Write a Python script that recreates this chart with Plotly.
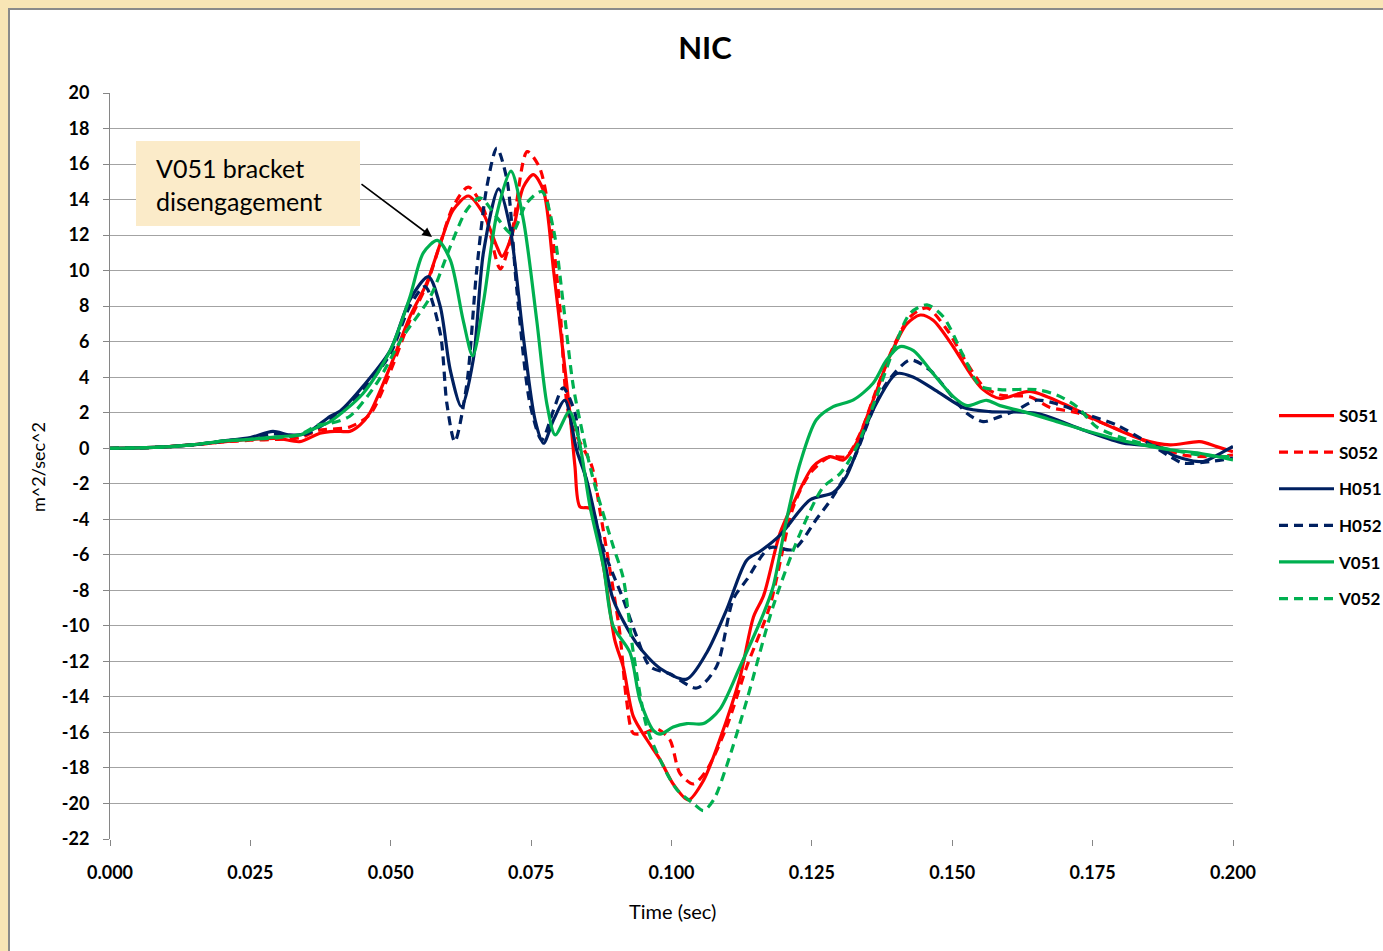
import plotly.graph_objects as go

# ---------------- data ----------------
t_S051 = [0, 0.005, 0.010, 0.015, 0.020, 0.025, 0.030, 0.0338, 0.0374, 0.040, 0.0427, 0.0445, 0.0463,
          0.0499, 0.0534, 0.0564, 0.0588, 0.0611, 0.0638, 0.0665, 0.0689, 0.0698, 0.0715, 0.0736, 0.0754,
          0.0772, 0.079, 0.0807, 0.0819, 0.0828, 0.0837, 0.0855, 0.0879, 0.0899, 0.0914, 0.0932, 0.0956,
          0.098, 0.1003, 0.103, 0.1057, 0.1086, 0.1122, 0.1146, 0.1164, 0.1193, 0.1217, 0.1253, 0.1282,
          0.1306, 0.1329, 0.1359, 0.1389, 0.1419, 0.1443, 0.1466, 0.1502, 0.1532, 0.1555, 0.1585, 0.1638,
          0.1698, 0.1769, 0.184, 0.1888, 0.1941, 0.1971, 0.2]
v_S051 = [0, 0.02, 0.08, 0.2, 0.35, 0.5, 0.55, 0.37, 0.84, 0.95, 0.95, 1.3, 2.0,
          4.6, 7.4, 9.3, 11.5, 13.4, 14.2, 13.2, 11.35, 10.8, 11.9, 14.7, 15.4,
          14.5, 10.0, 5.35, 2.0, -1.0, -3.3, -3.4, -6.7, -10.8, -12.3, -15.1, -16.4,
          -17.55, -18.9, -19.8, -18.7, -16.4, -12.9, -9.5, -8.3, -4.8, -3.1, -1.0, -0.47,
          -0.66, 0.28, 2.7, 5.2, 7.0, 7.5, 7.2, 5.7, 4.2, 3.3, 2.8, 3.2,
          2.5, 1.4, 0.47, 0.19, 0.37, 0.09, -0.19]

t_S052 = [0, 0.005, 0.010, 0.015, 0.020, 0.025, 0.030, 0.034, 0.037, 0.0427, 0.0463, 0.0499, 0.0534,
          0.0564, 0.0588, 0.0611, 0.0638, 0.0665, 0.0695, 0.0715, 0.0743, 0.0765, 0.0784, 0.0801, 0.0819,
          0.0858, 0.0873, 0.0899, 0.0908, 0.092, 0.0932, 0.095, 0.0974, 0.0997, 0.1015, 0.1039, 0.1063,
          0.1098, 0.1134, 0.1175, 0.1217, 0.1247, 0.1282, 0.1311, 0.1336, 0.1365, 0.1395, 0.1425, 0.1455,
          0.149, 0.1526, 0.1555, 0.1585, 0.1638, 0.1674, 0.1722, 0.1769, 0.184, 0.1911, 0.1959, 0.2]
v_S052 = [0, 0.02, 0.08, 0.2, 0.35, 0.45, 0.5, 0.6, 1.0, 1.2, 1.9, 4.3, 7.2,
          9.2, 11.5, 13.6, 14.7, 13.5, 10.1, 12.0, 16.7, 15.8, 12.9, 8.0, 1.6,
          -1.0, -3.6, -8.5, -10.4, -14.2, -16.05, -16.05, -15.8, -16.4, -18.3, -18.9, -18.1,
          -15.7, -12.3, -8.9, -3.3, -1.4, -0.47, -0.47, 0.84, 3.3, 5.7, 7.4, 7.9,
          6.7, 4.8, 3.5, 3.0, 2.9, 2.3, 2.0, 1.4, 0.47, -0.38, -0.47, -0.38]

t_H051 = [0, 0.005, 0.010, 0.015, 0.020, 0.025, 0.029, 0.032, 0.035, 0.0392, 0.041, 0.0451, 0.0499,
          0.0534, 0.0567, 0.0588, 0.0606, 0.0626, 0.0647, 0.0665, 0.0692, 0.0712, 0.0736, 0.0757, 0.0772,
          0.079, 0.081, 0.0831, 0.0849, 0.0878, 0.0896, 0.0938, 0.098, 0.1027, 0.1063, 0.1098, 0.1134,
          0.1158, 0.1193, 0.1247, 0.1288, 0.1311, 0.1359, 0.1401, 0.1431, 0.1478, 0.152, 0.1567, 0.165,
          0.1733, 0.1805, 0.1864, 0.1899, 0.1947, 0.1977, 0.2]
v_H051 = [0, 0.02, 0.08, 0.2, 0.4, 0.6, 0.95, 0.75, 0.85, 1.8, 2.1, 3.5, 5.5,
          8.35, 9.66, 8.0, 4.4, 2.34, 5.0, 11.0, 14.6, 12.5, 6.3, 1.6, 0.28,
          1.6, 2.7, -0.1, -1.8, -5.9, -8.5, -11.0, -12.4, -13.0, -11.5, -9.1, -6.3,
          -5.8, -4.9, -2.9, -2.5, -1.6, 2.16, 4.2, 4.0, 3.1, 2.3, 2.06, 1.97,
          1.03, 0.28, 0.09, -0.47, -0.75, -0.3, 0.1]

t_H052 = [0, 0.005, 0.010, 0.015, 0.020, 0.025, 0.029, 0.032, 0.035, 0.0392, 0.0451, 0.0499, 0.0534,
          0.0561, 0.0588, 0.060, 0.0614, 0.0635, 0.0653, 0.0671, 0.0689, 0.0707, 0.0724, 0.0748, 0.0769,
          0.079, 0.0807, 0.0828, 0.0837, 0.0878, 0.0914, 0.0938, 0.0962, 0.0997, 0.1045, 0.108, 0.111,
          0.1134, 0.1175, 0.1217, 0.1258, 0.1288, 0.1324, 0.1359, 0.1383, 0.1425, 0.146, 0.149, 0.1526,
          0.1555, 0.1585, 0.1615, 0.165, 0.1686, 0.1733, 0.1793, 0.184, 0.1888, 0.1911, 0.1959, 0.2]
v_H052 = [0, 0.02, 0.08, 0.2, 0.4, 0.55, 0.8, 0.7, 0.8, 1.6, 3.3, 5.3, 8.0,
          9.1, 6.5, 2.5, 0.37, 3.5, 10.0, 14.7, 16.9, 15.1, 9.1, 2.5, 0.47,
          2.16, 3.4, 2.0, -0.1, -5.6, -8.5, -10.6, -12.3, -12.7, -13.5, -12.3, -8.5,
          -7.4, -5.6, -5.7, -4.0, -2.7, -0.66, 2.16, 3.66, 4.97, 4.4, 3.3, 1.97,
          1.5, 1.78, 2.16, 2.7, 2.5, 1.97, 1.3, 0.47, -0.47, -0.84, -0.75, -0.56]

t_V051 = [0, 0.005, 0.010, 0.015, 0.020, 0.025, 0.030, 0.034, 0.037, 0.0392, 0.0451, 0.0499, 0.0534,
          0.0558, 0.0583, 0.0606, 0.0629, 0.0646, 0.0665, 0.0689, 0.0714, 0.0736, 0.076, 0.0778, 0.0793,
          0.0818, 0.0834, 0.0855, 0.0879, 0.0896, 0.0926, 0.0944, 0.0968, 0.098, 0.1003, 0.1027, 0.1057,
          0.1086, 0.1122, 0.1164, 0.1181, 0.1205, 0.1229, 0.1258, 0.1288, 0.1324, 0.1359, 0.1383, 0.1407,
          0.1431, 0.1466, 0.1502, 0.1526, 0.1561, 0.1585, 0.1627, 0.1686, 0.1745, 0.1811, 0.1888, 0.1941, 0.2]
v_V051 = [0, 0.02, 0.08, 0.2, 0.4, 0.5, 0.65, 0.76, 1.2, 1.5, 3.1, 5.5, 8.5,
          11.0, 11.7, 10.6, 7.2, 5.2, 8.2, 13.2, 15.6, 12.9, 7.2, 2.5, 0.75,
          2.06, 0.65, -3.3, -6.7, -10.0, -11.5, -14.2, -15.9, -16.1, -15.7, -15.5, -15.5,
          -14.7, -12.3, -9.3, -7.8, -4.0, -0.85, 1.6, 2.34, 2.72, 3.66, 4.97, 5.72,
          5.5, 4.2, 2.9, 2.4, 2.7, 2.4, 2.06, 1.5, 0.93, 0.37, -0.09, -0.28, -0.66]

t_V052 = [0, 0.005, 0.010, 0.015, 0.020, 0.025, 0.030, 0.034, 0.037, 0.0392, 0.0427, 0.0475, 0.0522,
          0.057, 0.0606, 0.0635, 0.0659, 0.0689, 0.0715, 0.0742, 0.0769, 0.079, 0.0807, 0.0825, 0.0843,
          0.0861, 0.0896, 0.0914, 0.0932, 0.0956, 0.098, 0.1009, 0.1039, 0.1057, 0.1075, 0.1098, 0.1134,
          0.1181, 0.1229, 0.127, 0.1301, 0.133, 0.1365, 0.1395, 0.1425, 0.1455, 0.1484, 0.152, 0.155,
          0.1585, 0.165, 0.1686, 0.1722, 0.1757, 0.1805, 0.1864, 0.1941, 0.2]
v_V052 = [0, 0.02, 0.08, 0.2, 0.4, 0.5, 0.6, 0.8, 1.3, 1.4, 1.8, 3.66, 6.3,
          8.5, 11.35, 13.4, 14.1, 13.0, 12.1, 13.8, 14.45, 12.3, 8.2, 3.5, 0.65,
          -1.8, -5.5, -7.3, -11.5, -15.7, -17.55, -19.2, -20.0, -20.4, -19.8, -17.9, -14.2,
          -8.9, -4.8, -2.2, -1.4, 0.09, 2.9, 5.5, 7.6, 8.07, 7.4, 5.2, 3.5,
          3.3, 3.3, 3.0, 2.34, 1.2, 0.56, 0.09, -0.38, -0.47]

series_names = ["S051", "S052", "H051", "H052", "V051", "V052"]
x_tick_vals = [0, 0.025, 0.05, 0.075, 0.1, 0.125, 0.15, 0.175, 0.2]
x_tick_text = ["0.000", "0.025", "0.050", "0.075", "0.100", "0.125", "0.150", "0.175", "0.200"]
y_tick_vals = list(range(-22, 21, 2))
y_tick_text = [str(v) for v in y_tick_vals]  # plain hyphen-minus, as in the reference

# ---------------- styling ----------------
RED = "#FF0000"
NAVY = "#002060"
GREEN = "#00B050"
DASH = "9px,6px"
FONT = "Lato, 'Open Sans', sans-serif"

series = [
    ("S051", t_S051, v_S051, RED, "solid"),
    ("S052", t_S052, v_S052, RED, DASH),
    ("H051", t_H051, v_H051, NAVY, "solid"),
    ("H052", t_H052, v_H052, NAVY, DASH),
    ("V051", t_V051, v_V051, GREEN, "solid"),
    ("V052", t_V052, v_V052, GREEN, DASH),
]

fig = go.Figure()
for name, tx, vy, col, dash in series:
    fig.add_trace(go.Scatter(
        x=tx, y=vy, name=name, mode="lines", legendgroup=name,
        line=dict(color=col, width=3.2, dash=dash, shape="spline", smoothing=0.8),
    ))

L, R, T, B = 110, 150, 93, 112
W, H = 1383, 951
pw = W - L - R
ph = H - T - B

def px_x(p):
    return (p - L) / pw

def px_y(p):
    return (H - B - p) / ph

fig.update_layout(
    width=W, height=H, autosize=False,
    margin=dict(l=L, r=R, t=T, b=B, pad=0, autoexpand=False),
    paper_bgcolor="#F8E5B5",
    plot_bgcolor="rgba(0,0,0,0)",
    font=dict(family=FONT, color="#000000"),
    title=dict(text="<b>NIC</b>", x=705 / W, xref="container", xanchor="center",
               y=1 - 48 / H, yref="container", yanchor="middle",
               font=dict(size=31, family=FONT, color="#000000")),
    showlegend=True,
    legend=dict(x=px_x(1274), xanchor="left", y=px_y(507.5), yanchor="middle",
                font=dict(size=17, family=FONT, color="#000000", weight="bold"),
                itemwidth=55, tracegroupgap=11.5, bgcolor="rgba(0,0,0,0)",
                traceorder="grouped"),
    xaxis=dict(range=[0, 0.2], tickvals=x_tick_vals, ticktext=x_tick_text,
               showgrid=False, zeroline=False, showline=False,
               ticks="outside", ticklen=6, tickcolor="#868686",
               tickfont=dict(size=18, family=FONT, weight="bold"),
               ticklabelstandoff=11, fixedrange=True),
    yaxis=dict(range=[-22, 20], tickvals=y_tick_vals, ticktext=y_tick_text,
               showgrid=True, gridcolor="#A3A3A3", gridwidth=1,
               zeroline=False, showline=True, linecolor="#868686", linewidth=1,
               ticks="outside", ticklen=6, tickcolor="#868686",
               tickfont=dict(size=18, family=FONT, weight="bold"),
               ticklabelstandoff=10, fixedrange=True),
)

# white chart panel with grey border
fig.add_shape(type="rect", xref="paper", yref="paper",
              x0=px_x(9), x1=px_x(1400), y0=px_y(970), y1=px_y(9),
              fillcolor="#FFFFFF", line=dict(color="#8A8A8A", width=2), layer="below")

# annotation box
fig.add_shape(type="rect", xref="paper", yref="paper",
              x0=px_x(136), x1=px_x(360), y0=px_y(226), y1=px_y(141),
              fillcolor="#FBEBC9", line=dict(width=0), layer="above")
fig.add_annotation(xref="paper", yref="paper", x=px_x(154), y=px_y(185),
                   xanchor="left", yanchor="middle", align="left", showarrow=False,
                   text="V051 bracket<br>disengagement",
                   font=dict(size=25, family=FONT, color="#000000"))
fig.add_annotation(x=(432 - L) / pw * 0.2, y=20 - (237 - T) / ph * 42,
                   ax=-72, ay=-54, axref="pixel", ayref="pixel",
                   text="", showarrow=True, arrowhead=2, arrowsize=1.2, arrowwidth=1.6,
                   arrowcolor="#000000", standoff=0)

# axis titles
fig.add_annotation(xref="paper", yref="paper", x=px_x(672), y=px_y(911),
                   xanchor="center", yanchor="middle", showarrow=False,
                   text="Time (sec)", font=dict(size=20, family=FONT, color="#000000"))
fig.add_annotation(xref="paper", yref="paper", x=px_x(38), y=px_y(467),
                   xanchor="center", yanchor="middle", showarrow=False, textangle=-90,
                   text="m^2/sec^2", font=dict(size=18, family=FONT, color="#000000"))

post = ("document.body.style.margin='0';document.body.style.padding='0';"
        "document.body.style.overflow='hidden';"
        "var gd=document.getElementById('{plot_id}');"
        "gd.style.width='1383px';gd.style.height='951px';"
        "Plotly.relayout(gd,{width:1383,height:951});")

fig.write_html("out.html", post_script=post, config={"displayModeBar": False})
